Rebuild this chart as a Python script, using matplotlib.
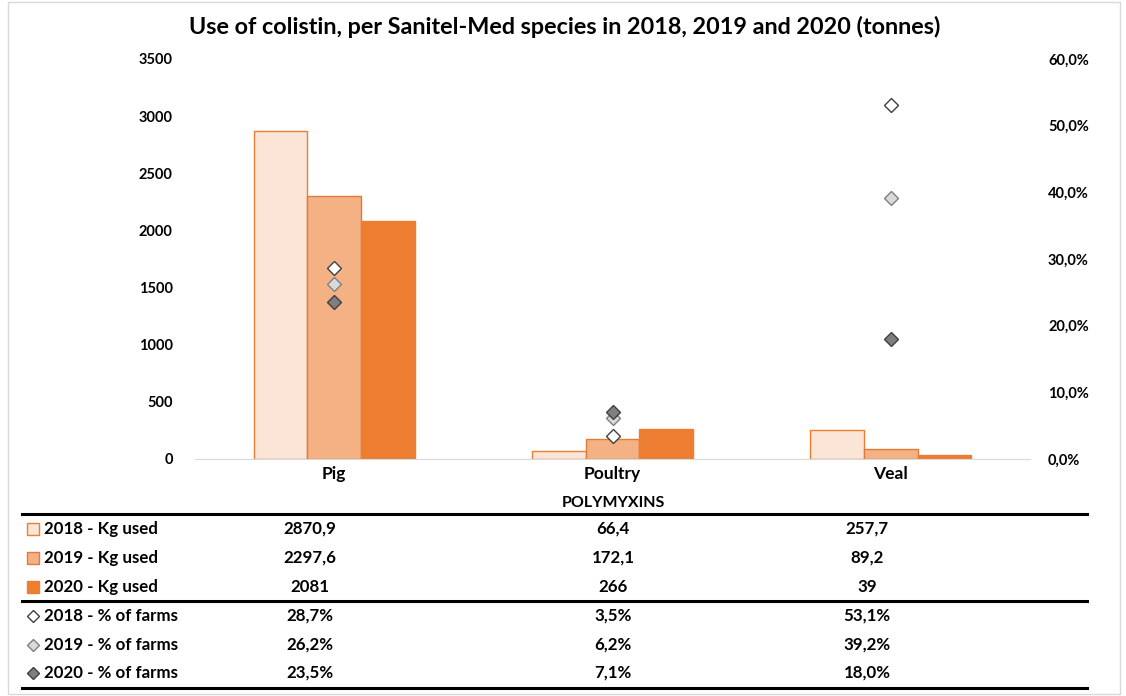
import numpy as np
import matplotlib.pyplot as plt
from matplotlib.lines import Line2D
from matplotlib.patches import Rectangle

plt.rcParams['font.family'] = ['Lato', 'DejaVu Sans']

species = ["Pig", "Poultry", "Veal"]
years = ["2018", "2019", "2020"]
kg_2018 = [2870.9, 66.4, 257.7]
kg_2019 = [2297.6, 172.1, 89.2]
kg_2020 = [2081, 266, 39]
farms_2018 = [28.7, 3.5, 53.1]
farms_2019 = [26.2, 6.2, 39.2]
farms_2020 = [23.5, 7.1, 18.0]

kg = [kg_2018, kg_2019, kg_2020]
farms = [farms_2018, farms_2019, farms_2020]

bar_face = ["#FBE5D6", "#F4B183", "#ED7D31"]
bar_edge = ["#ED7D31", "#E07B3A", "#ED7D31"]
mk_face = ["white", "#D9D9D9", "#7F7F7F"]
mk_edge = ["#404040", "#7F7F7F", "#404040"]

W, H = 1126, 696
fig = plt.figure(figsize=(W / 100, H / 100), dpi=100)

def fx(px):
    return px / W

def fy(py):
    return 1 - py / H

ax = fig.add_axes([fx(195), fy(459), fx(1030) - fx(195), (459 - 59) / H])
x = np.arange(len(species))
bw = 0.193
for i in range(3):
    ax.bar(x + (i - 1) * bw, kg[i], bw, color=bar_face[i], edgecolor=bar_edge[i], linewidth=1)
ax.set_xlim(-0.5, 2.5)
ax.set_ylim(0, 3500)
ax.set_yticks(np.arange(0, 3501, 500))
ax.set_xticks(x)
ax.set_xticklabels(species, fontsize=12.5, fontweight='bold')
for s in ["top", "right", "left"]:
    ax.spines[s].set_visible(False)
ax.spines["bottom"].set_color("#D9D9D9")
ax.tick_params(axis='both', length=0)
ax.tick_params(axis='y', labelsize=10.5, pad=16)
ax.tick_params(axis='x', pad=5)
for lbl in ax.get_yticklabels():
    lbl.set_fontweight('bold')

ax2 = ax.twinx()
for i in range(3):
    ax2.plot(x, farms[i], linestyle='none', marker='D', markersize=7,
             markerfacecolor=mk_face[i], markeredgecolor=mk_edge[i], markeredgewidth=1)
ax2.set_ylim(0, 60)
ax2.set_yticks(np.arange(0, 61, 10))
ax2.set_yticklabels([f"{v:.1f}%".replace(".", ",") for v in np.arange(0, 61, 10)],
                    fontsize=10.5, fontweight='bold')
ax2.tick_params(axis='y', length=0, pad=13)
for s in ["top", "right", "left", "bottom"]:
    ax2.spines[s].set_visible(False)

fig.text(fx(565), fy(27), "Use of colistin, per Sanitel-Med species in 2018, 2019 and 2020 (tonnes)",
         ha='center', va='center', fontsize=16.8, fontweight='bold')
fig.text(fx(613), fy(503), "POLYMYXINS", ha='center', va='center', fontsize=11.5, fontweight='bold')

# data table under the chart
def fmt_kg(v):
    return str(int(v)) if float(v).is_integer() else f"{v:.1f}".replace(".", ",")

def fmt_pct(v):
    return f"{v:.1f}%".replace(".", ",")

col_px = [310, 613, 867]
row_px = [529, 558, 587, 616, 645, 673]
rows = []
for i in range(3):
    rows.append((f"{years[i]} - Kg used", [fmt_kg(v) for v in kg[i]], 's', bar_face[i], bar_edge[i]))
for i in range(3):
    rows.append((f"{years[i]} - % of farms", [fmt_pct(v) for v in farms[i]], 'D', mk_face[i], mk_edge[i]))

for (label, vals, mk, fc, ec), ry in zip(rows, row_px):
    fig.add_artist(Line2D([fx(33)], [fy(ry)], marker=mk, markersize=9 if mk == 's' else 6.5,
                          markerfacecolor=fc, markeredgecolor=ec, markeredgewidth=1,
                          linestyle='none', transform=fig.transFigure))
    fig.text(fx(44), fy(ry), label, ha='left', va='center', fontsize=12.2, fontweight='bold')
    for cx, v in zip(col_px, vals):
        fig.text(fx(cx), fy(ry), v, ha='center', va='center', fontsize=12.2, fontweight='bold')

for ly in [514, 601, 688]:
    fig.add_artist(Line2D([fx(22), fx(1087)], [fy(ly), fy(ly)], color='black', linewidth=2.2,
                          transform=fig.transFigure))

fig.add_artist(Rectangle((fx(8), fy(694)), fx(1120) - fx(8), fy(2) - fy(694), fill=False,
                         edgecolor='#D9D9D9', linewidth=1, transform=fig.transFigure))

fig.savefig("out.png", dpi=100)
